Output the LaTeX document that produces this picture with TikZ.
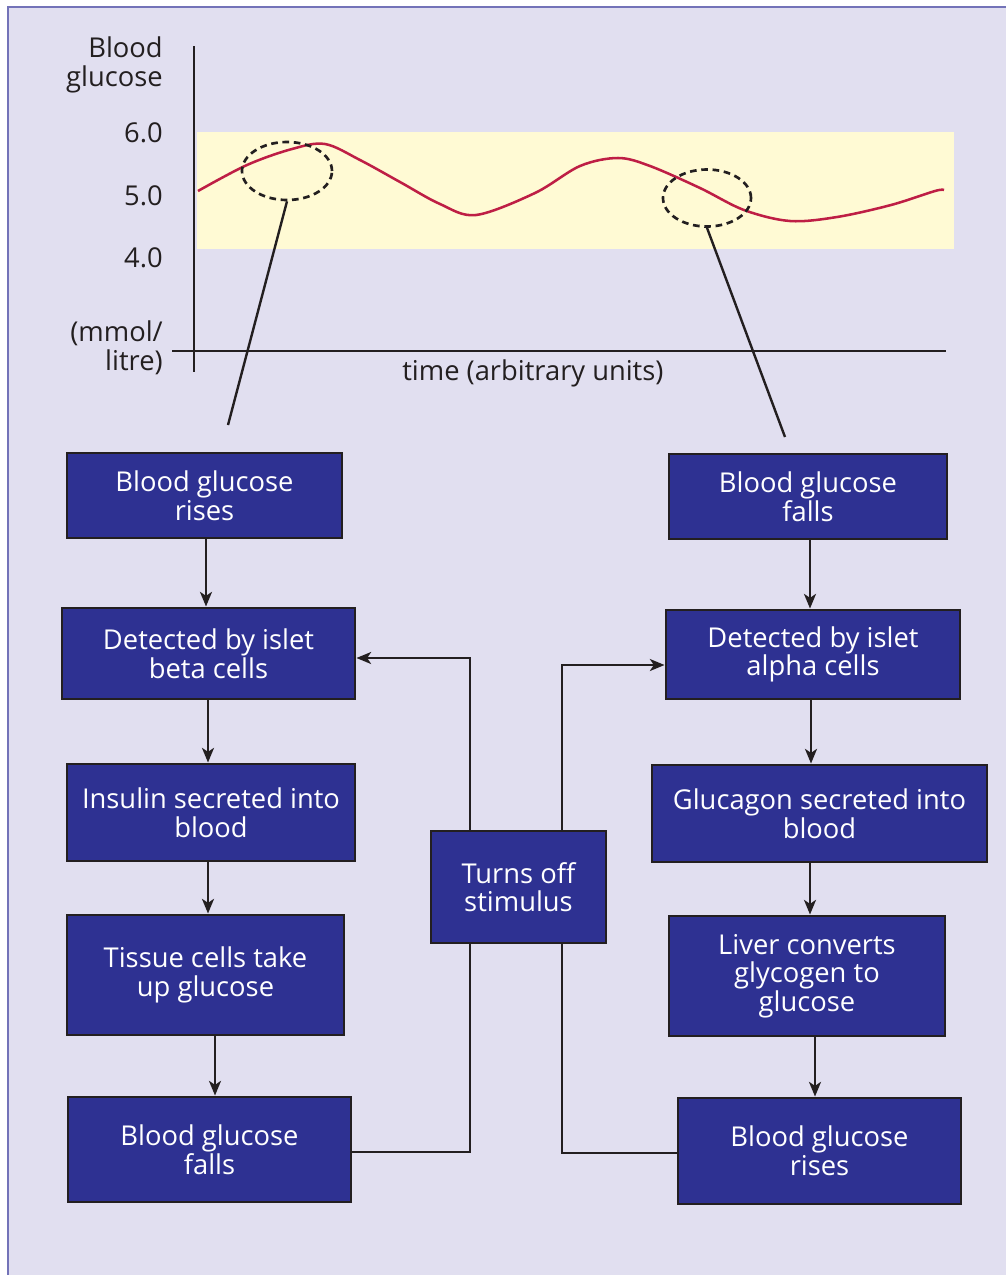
\documentclass[tikz,border=0pt]{standalone}
\usepackage{fontspec}
\setmainfont{Open Sans}
\usetikzlibrary{arrows.meta,shapes.geometric}
\definecolor{panel}{HTML}{E1DFF0}
\definecolor{panelline}{HTML}{7373B8}
\definecolor{band}{HTML}{FFFAD4}
\definecolor{boxblue}{HTML}{2E3192}
\definecolor{ink}{HTML}{231F20}
\definecolor{curvered}{HTML}{BE1E45}

\begin{document}
\begin{tikzpicture}[x=0.75pt,y=-0.75pt,
  box/.style={draw=ink,fill=boxblue,text=white,line width=2.2pt,align=center,inner sep=0pt,
    font=\fontsize{20.5}{21.5}\selectfont},
  wh/.style 2 args={minimum width=#1*0.75pt,minimum height=#2*0.75pt},
  lbl/.style={text=ink,align=right,inner sep=0pt,font=\fontsize{20.5}{21.75}\selectfont},
  arr/.style={draw=ink,line width=1.8pt,-{Stealth[length=11pt,width=9pt,inset=3pt]}},
  link/.style={draw=ink,line width=1.8pt},
  ring/.style={ellipse,draw=ink,line width=2pt,dash pattern=on 5pt off 3.5pt,inner sep=0pt}]
\useasboundingbox (0,0) rectangle (1006,1275);
\fill[white] (0,0) rectangle (1006,1275);
\fill[panel] (8,7) rectangle (1006,1275);
\draw[panelline,line width=1.2pt] (8,1275) -- (8,7) -- (1006,7);

% graph
\fill[band] (197,132) rectangle (954,249);
\draw[link] (194,46) -- (194,372);
\draw[link] (172,351) -- (946,351);
\node[lbl,anchor=base east] (yname) at (163,86) {Blood\\glucose};
\node[lbl,anchor=base east] (six) at (163,142) {6.0};
\node[lbl,anchor=base east] (five) at (163,205) {5.0};
\node[lbl,anchor=base east] (four) at (163,267) {4.0};
\node[lbl,anchor=base east] (unit) at (163,370) {(mmol/\\litre)};
\node[lbl,anchor=base west] (xname) at (402,380) {time (arbitrary units)};
\draw[curvered,line width=1.9pt] plot[smooth,tension=0.55] coordinates {(198,191) (247,165) (292,149) (325,144) (360,160) (400,182) (440,204) (476,215) (535,193) (580,166) (618,158) (650,166) (700,188) (744,210) (790,221) (837,217) (891,205) (935,191) (944,190)};
\node[ring,wh={90}{58}] (ringL) at (287,171) {};
\node[ring,wh={88}{57}] (ringR) at (707,198) {};
\coordinate (tipL) at (228,425);
\coordinate (tipR) at (785,437);
\draw[link] (ringL.south) -- (tipL);
\draw[link] (ringR.south) -- (tipR);

% left column
\node[box,wh={275}{85}] (lRise) at (204.5,495.5) {Blood glucose\\rises};
\node[box,wh={293}{91}] (lDetect) at (208.5,653.5) {Detected by islet\\beta cells};
\node[box,wh={288}{97}] (lInsulin) at (211,812.5) {Insulin secreted into\\blood};
\node[box,wh={277}{120}] (lTissue) at (205.5,975) {Tissue cells take\\up glucose};
\node[box,wh={283}{105}] (lFall) at (209.5,1149.5) {Blood glucose\\falls};

% right column
\node[box,wh={278}{85}] (rFall) at (808,496.5) {Blood glucose\\falls};
\node[box,wh={294}{89}] (rDetect) at (813,654.5) {Detected by islet\\alpha cells};
\node[box,wh={335}{97}] (rGlucagon) at (819.5,813.5) {Glucagon secreted into\\blood};
\node[box,wh={276}{120}] (rLiver) at (807,976) {Liver converts\\glycogen to\\glucose};
\node[box,wh={283}{106}] (rRise) at (819.5,1151) {Blood glucose\\rises};

\node[box,wh={175}{112}] (stop) at (518.5,887) {Turns off\\stimulus};

\foreach \a/\b/\x in {lRise/lDetect/206,lDetect/lInsulin/208,lInsulin/lTissue/208,lTissue/lFall/215,
  rFall/rDetect/810,rDetect/rGlucagon/811,rGlucagon/rLiver/810,rLiver/rRise/815}
  \draw[arr] (\a.south -| \x,0) -- (\b.north -| \x,0);

\draw[arr] (stop.north -| 470,0) |- (lDetect.east |- 0,658);
\draw[arr] (stop.north -| 562,0) |- (rDetect.west |- 0,665);
\draw[link] (lFall.east |- 0,1152) -| (stop.south -| 470,0);
\draw[link] (rRise.west |- 0,1153) -| (stop.south -| 562,0);
\end{tikzpicture}
\end{document}
